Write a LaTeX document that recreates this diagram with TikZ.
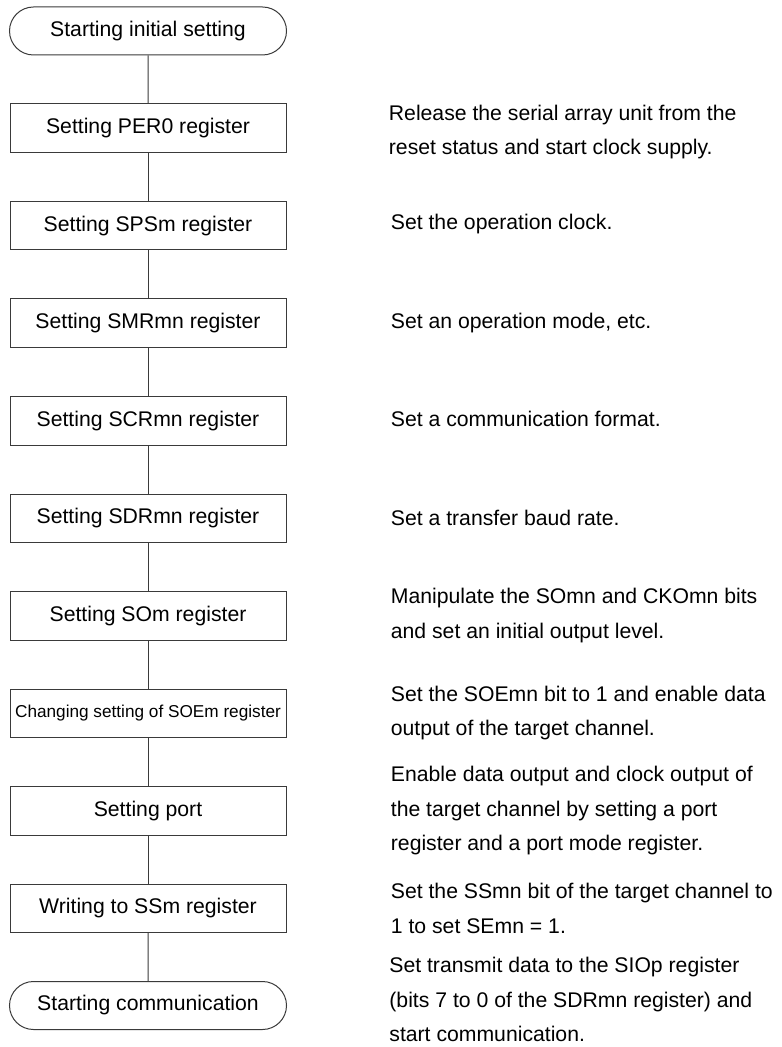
\documentclass[tikz,border=0pt]{standalone}
\usepackage{fontspec}
\setmainfont{Liberation Sans}
\usepackage{tikz}
\usetikzlibrary{positioning,shapes.misc}
\definecolor{flowLine}{HTML}{3A3A3A}

\begin{document}
\begin{tikzpicture}[
  node distance=24pt and 52pt,
  term/.style={rounded rectangle,draw=flowLine,line width=0.5pt,minimum width=138.5pt,minimum height=24pt,inner sep=0pt,font=\fontsize{10.6}{12}\selectfont},
  regbox/.style={rectangle,draw=flowLine,line width=0.5pt,minimum width=138pt,minimum height=24.25pt,inner sep=0pt,font=\fontsize{10.6}{12}\selectfont},
  note/.style={align=left,inner sep=0pt,font=\fontsize{10.6}{17.25}\selectfont},
  link/.style={draw=flowLine,line width=0.5pt}
]
\useasboundingbox (0,0) rectangle (390.5pt,-523.5pt);
\node[term] (start) at (74pt,-15.5pt) {Starting initial setting};
\node[regbox,below=of start] (per) {Setting PER0 register};
\node[regbox,below=of per] (sps) {Setting SPSm register};
\node[regbox,below=of sps] (smr) {Setting SMRmn register};
\node[regbox,below=of smr] (scr) {Setting SCRmn register};
\node[regbox,below=of scr] (sdr) {Setting SDRmn register};
\node[regbox,below=of sdr] (som) {Setting SOm register};
\node[regbox,below=of som,font=\fontsize{8.6}{10}\selectfont] (soe) {Changing setting of SOEm register};
\node[regbox,below=of soe] (port) {Setting port};
\node[regbox,below=of port] (ssm) {Writing to SSm register};
\node[term,below=of ssm] (comm) {Starting communication};
% notes on the right
\node[note,right=51pt of per,yshift=-2pt] (nper) {Release the serial array unit from the\\reset status and start clock supply.};
\node[note,right=of sps,yshift=1pt] (nsps) {Set the operation clock.};
\node[note,right=of smr] (nsmr) {Set an operation mode, etc.};
\node[note,right=of scr,yshift=1pt] (nscr) {Set a communication format.};
\node[note,right=of sdr] (nsdr) {Set a transfer baud rate.};
\node[note,right=of som] (nsom) {Manipulate the SOmn and CKOmn bits\\and set an initial output level.};
\node[note,right=of soe] (nsoe) {Set the SOEmn bit to 1 and enable data\\output of the target channel.};
\node[note,right=of port] (nport) {Enable data output and clock output of\\the target channel by setting a port\\register and a port mode register.};
\node[note,right=of ssm] (nssm) {Set the SSmn bit of the target channel to\\1 to set SEmn = 1.};
\node[note,right=51pt of comm,yshift=3pt] (ncomm) {Set transmit data to the SIOp register\\(bits 7 to 0 of the SDRmn register) and\\start communication.};
\draw[link] (start) -- (per);
\draw[link] (per) -- (sps);
\draw[link] (sps) -- (smr);
\draw[link] (smr) -- (scr);
\draw[link] (scr) -- (sdr);
\draw[link] (sdr) -- (som);
\draw[link] (som) -- (soe);
\draw[link] (soe) -- (port);
\draw[link] (port) -- (ssm);
\draw[link] (ssm) -- (comm);
\end{tikzpicture}
\end{document}
